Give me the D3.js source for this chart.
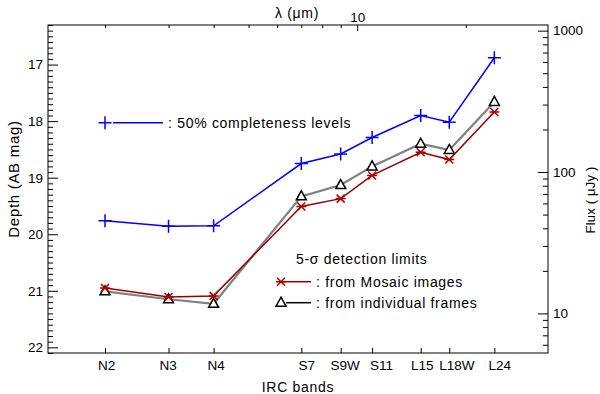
<!DOCTYPE html>
<html lang="en">
<head>
<meta charset="UTF-8">
<title>IRC depth</title>
<script src="https://d3js.org/d3.v7.min.js"></script>
<style>
    body { margin: 0; padding: 0; background: #fff; }
    svg { font-family: 'Liberation Sans', Arial, sans-serif; }
    .axis text { font-size: 13.5px; fill: #000; }
    .axis line { stroke: #000; }
    .label { font-size: 14px; letter-spacing: 0.7px; fill: #000; }
</style>
</head>
<body>
<div id="chart"></div>
<script>
    // bands and their wavelengths (micron)
    const bands = ["N2", "N3", "N4", "S7", "S9W", "S11", "L15", "L18W", "L24"];
    const wavelengths = [2.0, 3.0, 4.0, 7.0, 9.0, 11.0, 15.0, 18.0, 24.0];
    // depths in AB mag
    const completeness = [19.76, 19.86, 19.85, 18.75, 18.58, 18.29, 17.90, 18.02, 16.88];
    const mosaic = [20.95, 21.11, 21.09, 19.51, 19.37, 18.96, 18.55, 18.68, 17.84];
    const frames = [21.01, 21.15, 21.23, 19.33, 19.13, 18.80, 18.40, 18.51, 17.66];
    // tick values
    const depthTicks = [17, 18, 19, 20, 21, 22];
    const fluxTicks = [10, 100, 1000];
    const lambdaTicks = [10];

    const W = 600, H = 394;
    const plotL = 48, plotR = 548, plotT = 25, plotB = 353;
    // horizontal nudge of the band names (px)
    const bandLabelShift = [1, -1, 2, 5, 4, 9, 1, 7, 5];

    const svg = d3.select("#chart").append("svg")
        .attr("width", W)
        .attr("height", H);

    const x = d3.scaleLog().domain([1.39, 33.8]).range([plotL, plotR]);
    const y = d3.scaleLinear().domain([16.3, 22.1]).range([plotT, plotB]);
    const magToFlux = m => Math.pow(10, (23.9 - m) / 2.5);
    const yF = d3.scaleLog().domain([magToFlux(22.1), magToFlux(16.3)]).range([plotB, plotT]);

    // minor tick values
    const depthMinor = d3.range(163, 222).map(d => d / 10).filter(d => d % 1 !== 0);
    const fluxMinor = [];
    [1, 10, 100, 1000].forEach(dec => d3.range(2, 10).forEach(k => {
        const v = k * dec;
        if (v > yF.domain()[0] && v < yF.domain()[1]) fluxMinor.push(v);
    }));
    const lambdaMinor = [2, 3, 4, 5, 6, 7, 8, 9, 20];

    function addAxis(axis, tx, ty) {
        const g = svg.append("g").attr("class", "axis")
            .attr("transform", "translate(" + tx + "," + ty + ")")
            .call(axis);
        g.select(".domain").remove();
        return g;
    }

    // left axis (depth)
    addAxis(d3.axisLeft(y).tickValues(depthMinor).tickSize(-5).tickFormat(""), plotL, 0);
    addAxis(d3.axisLeft(y).tickValues(depthTicks).tickSize(-10).tickPadding(5).tickFormat(d3.format("d")), plotL, 0);

    // right axis (flux)
    addAxis(d3.axisRight(yF).tickValues(fluxMinor).tickSize(-5).tickFormat(""), plotR, 0);
    addAxis(d3.axisRight(yF).tickValues(fluxTicks).tickSize(-10).tickPadding(5).tickFormat(d3.format("d")), plotR, 0);

    // top axis (wavelength)
    addAxis(d3.axisTop(x).tickValues(lambdaMinor).tickSize(-3).tickFormat(""), 0, plotT);
    addAxis(d3.axisTop(x).tickValues(lambdaTicks).tickSize(-6).tickPadding(3).tickFormat(d3.format("d")), 0, plotT);

    // bottom axis (bands)
    const gb = addAxis(d3.axisBottom(x).tickValues(wavelengths).tickSize(-5).tickPadding(7)
        .tickFormat((d, i) => bands[i]), 0, plotB);
    gb.selectAll("text").attr("dx", (d, i) => bandLabelShift[i]);

    // frame
    svg.append("rect")
        .attr("x", plotL).attr("y", plotT)
        .attr("width", plotR - plotL).attr("height", plotB - plotT)
        .attr("fill", "none").attr("stroke", "#000").attr("stroke-width", 1);

    // axis titles
    svg.append("text").attr("class", "label")
        .attr("transform", "translate(19," + ((plotT + plotB) / 2 - 10) + ") rotate(-90)")
        .attr("text-anchor", "middle").style("font-size", "15px").text("Depth (AB mag)");
    svg.append("text").attr("class", "label")
        .attr("transform", "translate(595,200) rotate(-90)")
        .attr("text-anchor", "middle").style("font-size", "13px").style("letter-spacing", "0.2px")
        .text("Flux ( \u03bcJy )");
    svg.append("text").attr("class", "label")
        .attr("x", 297).attr("y", 18).attr("text-anchor", "middle").text("\u03bb (\u03bcm)");
    svg.append("text").attr("class", "label")
        .attr("x", 298).attr("y", 392).attr("text-anchor", "middle").text("IRC bands");

    // markers
    const plusPath = "M-6.5,0H6.5M0,-6.5V6.5";
    const starPath = "M-5,0H5M-4,-4L4,4M-4,4L4,-4";
    const triPath = "M0,-5.5L5,3.5L-5,3.5Z";

    const line = d3.line().x((d, i) => x(wavelengths[i])).y(d => y(d));

    function drawSeries(vals, color, width, marker, mcolor, fill) {
        svg.append("path").datum(vals)
            .attr("d", line)
            .attr("fill", "none").attr("stroke", color).attr("stroke-width", width);
        svg.selectAll(null).data(vals).enter().append("path")
            .attr("d", marker)
            .attr("transform", (d, i) => "translate(" + x(wavelengths[i]) + "," + y(d) + ")")
            .attr("fill", fill).attr("stroke", mcolor).attr("stroke-width", 1.5);
    }

    drawSeries(completeness, "#0000ff", 1.5, plusPath, "#0000ff", "none");
    drawSeries(frames, "#808080", 2.2, triPath, "#000", "#fff");
    drawSeries(mosaic, "#990000", 1.5, starPath, "#b00000", "none");

    // legends
    function legendEntry(mx, my, marker, color, mcolor, fill, lx1, lx2, txt) {
        svg.append("line").attr("x1", lx1).attr("x2", lx2).attr("y1", my).attr("y2", my)
            .attr("stroke", color).attr("stroke-width", 1.5);
        svg.append("path").attr("d", marker)
            .attr("transform", "translate(" + mx + "," + my + ")")
            .attr("fill", fill).attr("stroke", mcolor).attr("stroke-width", 1.5);
        svg.append("text").attr("class", "label")
            .attr("x", lx2 + 5).attr("y", my + 5).text(txt);
    }

    legendEntry(105, 122.7, plusPath, "#0000ff", "#0000ff", "none", 113, 163, ": 50% completeness levels");
    svg.append("text").attr("class", "label")
        .attr("x", 296).attr("y", 264).text("5-\u03c3 detection limits");
    legendEntry(281, 281.7, starPath, "#990000", "#b00000", "none", 282, 311, ": from Mosaic images");
    legendEntry(281, 302.7, triPath, "#000", "#000", "#fff", 286, 311, ": from individual frames");
</script>
</body>
</html>
